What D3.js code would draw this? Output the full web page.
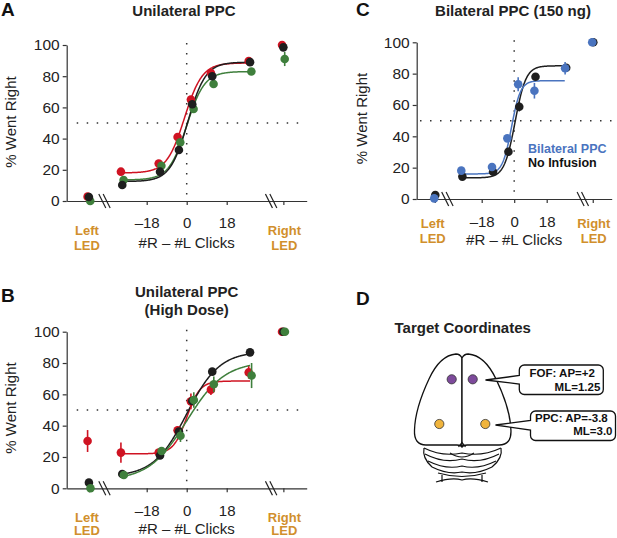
<!DOCTYPE html>
<html lang="en">
<head>
<meta charset="UTF-8">
<title>PPC inactivation psychometrics</title>
<style>
    body { margin: 0; background: #fff; }
    svg { font-family: "Liberation Sans", Arial, Helvetica, sans-serif; }
    .guide { stroke: #333; stroke-width: 1.5; stroke-dasharray: 1.5 8.5; }
    .axis path, .axis line { stroke: #333; stroke-width: 1.2; }
    .axis text { fill: #222; }
    .title { font-weight: bold; font-size: 15px; text-anchor: middle; fill: #222; }
    .letter { font-weight: bold; font-size: 19px; fill: #111; }
    .axlabel { font-size: 15px; text-anchor: middle; fill: #222; }
    .led { font-weight: bold; font-size: 13px; text-anchor: middle; fill: #d18f2c; }
    .fit { fill: none; stroke-width: 1.5; }
    .brain { fill: #fff; stroke: #111; stroke-width: 1.3; stroke-linejoin: round; }
    .brainline { fill: none; stroke: #111; stroke-width: 1.2; }
    .box text { font-weight: bold; font-size: 11.5px; fill: #111; }
</style>
<script src="https://d3js.org/d3.v7.min.js"></script>
</head>
<body>
<script>

// x positions (in clicks) of the stimulus bins, and of the two LED trials past the axis breaks
const clickBins = [-29, -12, -3.5, 2.5, 11.5, 28.5];
const ledSlots = [-44, 43.5];
const breakSlots = [-37, 38];
const xTicks = [-18, 0, 18];
const xTickLabels = ["–18", "0", "18"];
const yTicks = [0, 20, 40, 60, 80, 100];
const ledWords = [["Left", "LED"], ["Right", "LED"]];

const RED = "#cf1322", GREEN = "#3f7f3c", BLACK = "#1e1e1e", BLUE = "#4a74bf";

// Panel A - unilateral PPC  (fit = [lower, upper, midpoint, width])
const aRed = [18.8, 24, 41, 65, 82, 89.7];
const aRedErr = [1.5, 1.5, 1.5, 1.5, 1.5, 1.5];
const aRedLed = [2.8, 100];
const aRedLedErr = [1, 0.5];
const aRedFit = [18, 88.5, -1, 4];

const aGreen = [13.5, 22.6, 37.6, 59, 75, 83];
const aGreenErr = [1.5, 2, 2, 2.5, 2.5, 2];
const aGreenLed = [0, 91];
const aGreenLedErr = [2, 4.5];
const aGreenFit = [13.5, 83, 0, 4];

const aBlack = [10.3, 18.8, 32.7, 62, 80, 89];
const aBlackErr = [1.2, 1.2, 1.5, 1.5, 1.5, 1.2];
const aBlackLed = [2.6, 98.5];
const aBlackLedErr = [1, 2];
const aBlackFit = [12.5, 89, 0.5, 4];

// Panel B - unilateral PPC, high dose
const bRed = [22.8, 22.8, 37, 55.5, 63, 74];
const bRedErr = [6.5, 2, 2.5, 5, 3.5, 4];
const bRedLed = [30.2, 100];
const bRedLedErr = [7, 0.5];
const bRedFit = [22, 68.5, 0, 3];

const bBlack = [9.1, 20.9, 36.2, 55.7, 74.5, 86.8];
const bBlackErr = [1.2, 1.5, 1.5, 1.5, 1.5, 1.2];
const bBlackLed = [3.6, 100];
const bBlackLedErr = [1, 0.5];
const bBlackFit = [7.5, 87.5, 0, 7.4];

const bGreen = [8.5, 23.8, 33.6, 56.4, 66.4, 72];
const bGreenErr = [1.5, 2.5, 4, 5, 5, 8];
const bGreenLed = [0, 100];
const bGreenLedErr = [2, 0.5];
const bGreenFit = [5, 81, 0, 8.5];

// Panel C - bilateral PPC (150 ng)
const cBlack = [14.3, 17.4, 30.2, 58.9, 78, 83.8];
const cBlackErr = [1.5, 1.5, 2.5, 3, 2, 2];
const cBlackLed = [2.5, 100];
const cBlackLedErr = [1, 0.5];
const cBlackFit = [13.5, 85, 0.5, 3];

const cBlue = [18.1, 20.4, 38.7, 73.2, 69.1, 83.4];
const cBlueErr = [1.5, 1.5, 2, 4.5, 5, 4];
const cBlueLed = [0.4, 100];
const cBlueLedErr = [2, 0.5];
const cBlueFit = [16, 75.5, -1.5, 2.5];

const svg = d3.select("body").append("svg")
    .attr("width", 617).attr("height", 538);

function series(color, vals, errs, led, ledErr, fit, dx) {
    return { color, vals, errs, led, ledErr, fit, dx };
}

function logistic(f, v) {
    return f[0] + (f[1] - f[0]) / (1 + Math.exp(-(v - f[2]) / f[3]));
}

function drawPanel(p) {
    const g = svg.append("g");
    const x = d3.scaleLinear().domain([-54, 54]).range([p.left, p.right]);
    const y = d3.scaleLinear().domain([0, 100]).range([p.bottom, p.top]);

    // dotted guides at 0 clicks and 50%
    g.append("line").attr("class", "guide")
        .attr("x1", x(0)).attr("x2", x(0)).attr("y1", y(100) - 2).attr("y2", y(0));
    g.append("line").attr("class", "guide")
        .attr("x1", p.guideStart).attr("x2", p.right).attr("y1", y(50)).attr("y2", y(50));

    const ya = g.append("g").attr("class", "axis")
        .attr("transform", `translate(${p.left},0)`)
        .call(d3.axisLeft(y).tickValues(yTicks).tickSize(4).tickSizeOuter(0).tickPadding(3));
    ya.attr("font-size", 15.5).attr("font-family", null);

    const xa = g.append("g").attr("class", "axis")
        .attr("transform", `translate(0,${p.bottom})`)
        .call(d3.axisBottom(x).tickValues(xTicks.concat(ledSlots)).tickSize(4).tickSizeOuter(0)
            .tickPadding(p.tickPad)
            .tickFormat(d => { const i = xTicks.indexOf(d); return i < 0 ? "" : xTickLabels[i]; }));
    xa.attr("font-size", 15).attr("font-family", null);

    // axis breaks
    breakSlots.forEach(b => {
        [-2.2, 2.2].forEach(o => {
            g.append("line")
                .attr("x1", x(b) + o - 3.5).attr("y1", p.bottom - 7)
                .attr("x2", x(b) + o + 3.5).attr("y2", p.bottom + 7)
                .attr("stroke", "#222").attr("stroke-width", 1.2);
        });
    });

    // LED labels
    ledSlots.forEach((s, i) => {
        ledWords[i].forEach((w, j) => {
            g.append("text").attr("class", "led")
                .attr("x", x(s) + (i === 0 ? -2 : 1))
                .attr("y", p.bottom + p.ledY[j]).text(w);
        });
    });

    g.append("text").attr("class", "axlabel")
        .attr("x", x(0)).attr("y", p.bottom + p.xLabelY).text("#R – #L Clicks");
    g.append("text").attr("class", "axlabel")
        .attr("transform", `translate(${p.yLabelX},${p.yLabelMid}) rotate(-90)`)
        .text("% Went Right");

    const line = d3.line().x(d => x(d[0])).y(d => y(d[1]));

    p.series.forEach(s => {
        const lo = clickBins[0], hi = p.curveEnd;
        const pts = d3.range(lo, hi + 0.001, 0.25).map(v => [v, logistic(s.fit, v)]);
        g.append("path").attr("class", "fit").attr("stroke", s.color).attr("d", line(pts));
    });

    p.series.forEach(s => {
        const pts = clickBins.map((b, i) => ({ cx: b + s.dx, v: s.vals[i], e: s.errs[i] }))
            .concat(ledSlots.map((b, i) => ({ cx: b + s.dx, v: s.led[i], e: s.ledErr[i] })));
        const sg = g.append("g");
        sg.selectAll("line").data(pts).join("line")
            .attr("x1", d => x(d.cx)).attr("x2", d => x(d.cx))
            .attr("y1", d => y(d.v - d.e)).attr("y2", d => y(Math.min(100, d.v + d.e)))
            .attr("stroke", s.color).attr("stroke-width", 1.6);
        sg.selectAll("circle").data(pts).join("circle")
            .attr("cx", d => x(d.cx)).attr("cy", d => y(d.v)).attr("r", 4.3)
            .attr("fill", s.color);
    });
}

drawPanel({
    left: 66.7, right: 306.7, bottom: 201, top: 45, guideStart: 76.7,
    tickPad: 12.5, ledY: [34, 48.5], xLabelY: 47, yLabelX: 15.5, yLabelMid: 122, curveEnd: 28.5,
    series: [
        series(RED, aRed, aRedErr, aRedLed, aRedLedErr, aRedFit, -0.6),
        series(GREEN, aGreen, aGreenErr, aGreenLed, aGreenLedErr, aGreenFit, 0.6),
        series(BLACK, aBlack, aBlackErr, aBlackLed, aBlackLedErr, aBlackFit, 0)
    ]
});

drawPanel({
    left: 66.7, right: 306.7, bottom: 488.3, top: 331.7, guideStart: 76.7,
    tickPad: 13, ledY: [33.5, 47], xLabelY: 46, yLabelX: 15.5, yLabelMid: 408, curveEnd: 28.5,
    series: [
        series(RED, bRed, bRedErr, bRedLed, bRedLedErr, bRedFit, -0.6),
        series(BLACK, bBlack, bBlackErr, bBlackLed, bBlackLedErr, bBlackFit, 0),
        series(GREEN, bGreen, bGreenErr, bGreenLed, bGreenLedErr, bGreenFit, 0.7)
    ]
});

drawPanel({
    left: 416.7, right: 611.7, bottom: 199, top: 42.3, guideStart: 420,
    tickPad: 13, ledY: [29, 44], xLabelY: 46, yLabelX: 367, yLabelMid: 118.5, curveEnd: 28,
    series: [
        series(BLACK, cBlack, cBlackErr, cBlackLed, cBlackLedErr, cBlackFit, 0.3),
        series(BLUE, cBlue, cBlueErr, cBlueLed, cBlueLedErr, cBlueFit, -0.3)
    ]
});

// titles and panel letters
svg.append("text").attr("class", "title").attr("x", 184).attr("y", 15.5).text("Unilateral PPC");
svg.append("text").attr("class", "title").attr("x", 186.7).attr("y", 297).text("Unilateral PPC");
svg.append("text").attr("class", "title").attr("x", 186.7).attr("y", 314.5).text("(High Dose)");
svg.append("text").attr("class", "title").attr("x", 513).attr("y", 15.5).text("Bilateral PPC (150 ng)");

[["A", 1, 15.5], ["B", 1, 302], ["C", 356, 15.5], ["D", 356, 305]].forEach(d => {
    svg.append("text").attr("class", "letter").attr("x", d[1]).attr("y", d[2]).text(d[0]);
});

// legend for panel C
svg.append("text").attr("x", 528).attr("y", 153).attr("font-size", 12.5).attr("font-weight", "bold")
    .attr("fill", BLUE).text("Bilateral PPC");
svg.append("text").attr("x", 528).attr("y", 167).attr("font-size", 12.5).attr("font-weight", "bold")
    .attr("fill", "#111").text("No Infusion");

// Panel D - target coordinates on a dorsal view of the rat brain
svg.append("text").attr("class", "title").attr("x", 462.7).attr("y", 333).attr("font-size", 14)
    .text("Target Coordinates");

const brain = svg.append("g").attr("transform", "translate(462,354)");
const hemi = "M0,4 C-1.5,1 -3.5,0 -6,0 C-18,1 -27,12 -33,25 C-41,42 -47,60 -47.5,76 " +
    "C-48,86 -44,91 -36,91 L-5,91 Q-1,91 0,93 Z";
brain.append("path").attr("class", "brain").attr("d", hemi);
brain.append("path").attr("class", "brain").attr("d", hemi).attr("transform", "scale(-1.03,1)");
brain.append("path").attr("class", "brainline").attr("d", "M-3.5,93 L0,88.5 L3.5,93");

const folia = [
    "M-38,94 Q-20,103 0,99 Q20,103 39,94",
    "M-37,100 Q-18,110 0,105 Q18,110 37,100",
    "M-34,107 Q-16,116 0,112 Q16,116 34,107",
    "M-30,113 Q-14,121 0,118 Q14,121 30,113",
    "M-24,119 Q0,126 24,119",
    "M-38,94 Q-40,104 -30,113",
    "M39,94 Q41,104 30,113",
    "M-12,99 Q0,107 12,99",
    "M-20,121 L-20,128", "M20,121 L20,128",
    "M-26,128 Q-10,123 0,126 Q10,123 26,128"
];
brain.selectAll(".folium").data(folia).join("path")
    .attr("class", "brainline folium").attr("d", d => d);

const targets = [
    { x: -10.3, y: 25.3, c: "#7d4a9b" }, { x: 10.7, y: 25.3, c: "#7d4a9b" },
    { x: -22.7, y: 70, c: "#f0b43c" }, { x: 23.3, y: 70, c: "#f0b43c" }
];
brain.selectAll(".target").data(targets).join("circle")
    .attr("class", "target").attr("cx", d => d.x).attr("cy", d => d.y).attr("r", 4.6)
    .attr("fill", d => d.c).attr("stroke", "#333").attr("stroke-width", 0.8);

function callout(x, y, w, h, r, tipX, tipY, t1, t2) {
    const p = d3.path();
    p.moveTo(x + r, y);
    p.lineTo(x + w - r, y);
    p.arcTo(x + w, y, x + w, y + r, r);
    p.lineTo(x + w, y + h - r);
    p.arcTo(x + w, y + h, x + w - r, y + h, r);
    p.lineTo(x + r, y + h);
    p.arcTo(x, y + h, x, y + h - r, r);
    p.lineTo(x, t2);
    p.lineTo(tipX, tipY);
    p.lineTo(x, t1);
    p.lineTo(x, y + r);
    p.arcTo(x, y, x + r, y, r);
    p.closePath();
    return p.toString();
}

const boxes = [
    { b: [519.3, 365, 84, 29.5], tip: [485.5, 380], t: [375.5, 384], lines: ["FOF: AP=+2", "ML=1.25"], tx: 529.5, base: [376.5, 390.5] },
    { b: [530.5, 411, 85, 29.5], tip: [495.5, 425], t: [420.5, 430], lines: ["PPC: AP=-3.8", "ML=3.0"], tx: 535, base: [421.5, 435] }
];
boxes.forEach(d => {
    const bg = svg.append("g").attr("class", "box");
    bg.append("path").attr("d", callout(d.b[0], d.b[1], d.b[2], d.b[3], 5, d.tip[0], d.tip[1], d.t[0], d.t[1]))
        .attr("fill", "#fff").attr("stroke", "#111").attr("stroke-width", 1.3);
    bg.append("text").attr("x", d.tx).attr("y", d.base[0]).text(d.lines[0]);
    bg.append("text").attr("x", d.b[0] + d.b[2] - 3).attr("y", d.base[1])
        .attr("text-anchor", "end").text(d.lines[1]);
});

</script>
</body>
</html>
